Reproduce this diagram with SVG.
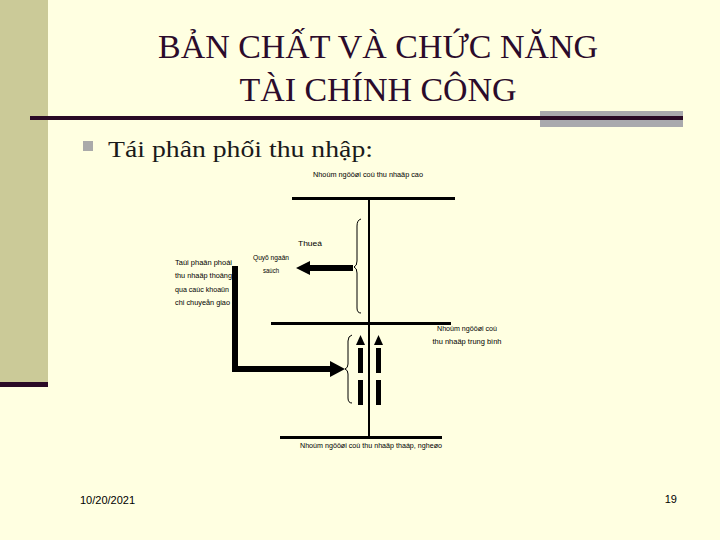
<svg xmlns="http://www.w3.org/2000/svg" width="720" height="540" viewBox="0 0 720 540">
<style>
.title{font-family:"Liberation Serif","Times New Roman",serif;font-size:34px;fill:#2b0b2b}
.bullet{font-family:"Liberation Serif","Times New Roman",serif;font-size:24px;fill:#1a1a1a}
.small{font-family:"Liberation Sans",Arial,sans-serif;font-size:7.5px;fill:#000}
.foot{font-family:"Liberation Sans",Arial,sans-serif;font-size:11px;fill:#000}
.ln{stroke:#000;fill:none}
.brace{stroke:#000;stroke-width:1;fill:none}
</style>
<defs>
<marker id="ahUp" viewBox="0 0 10 10" refX="5" refY="0" markerWidth="10" markerHeight="10" markerUnits="userSpaceOnUse" orient="auto"/>
</defs>
<rect x="0" y="0" width="720" height="540" fill="#FFFFE1"/>
<rect x="0" y="0" width="48" height="382" fill="#CBCA98"/>
<rect x="0" y="382" width="48" height="5" fill="#2a0a26"/>
<rect x="540" y="111" width="143" height="16" fill="#A9A9AD"/>
<rect x="30" y="116" width="653" height="4" fill="#2a0a26"/>

<g id="title">
<text class="title" x="378" y="58" text-anchor="middle" textLength="440" lengthAdjust="spacingAndGlyphs">BẢN CHẤT VÀ CHỨC NĂNG</text>
<text class="title" x="378" y="101" text-anchor="middle" textLength="277" lengthAdjust="spacingAndGlyphs">TÀI CHÍNH CÔNG</text>
</g>
<g id="bullet">
<rect x="83" y="141" width="10" height="10" fill="#AAAAAA"/>
<text class="bullet" x="108" y="157" textLength="265" lengthAdjust="spacingAndGlyphs">Tái phân phối thu nhập:</text>
</g>

<g id="connectors">
<line class="ln" x1="292" y1="198.5" x2="455" y2="198.5" stroke-width="3"/>
<line class="ln" x1="369" y1="198" x2="369" y2="437" stroke-width="2"/>
<line class="ln" x1="271" y1="323.5" x2="451" y2="323.5" stroke-width="3"/>
<line class="ln" x1="280" y1="437.5" x2="442" y2="437.5" stroke-width="3"/>
<!-- brace top -->
<path class="brace" d="M361,219 Q357,220 357,226 V261 Q357,266 354,267 Q357,268 357,273 V308 Q357,313 361,313"/>
<!-- left arrow -->
<line class="ln" x1="353" y1="268" x2="308" y2="268" stroke-width="6"/>
<polygon points="296,268 310,261 310,275" fill="#000"/>
<!-- L connector -->
<path class="ln" d="M235,266 V369 H332" stroke-width="6"/>
<polygon points="345,369 330,361 330,377" fill="#000"/>
<!-- brace bottom -->
<path class="brace" d="M352,335 Q348,336 348,341 V364 Q348,368 345,369 Q348,370 348,374 V398 Q348,403 352,403"/>
<!-- dashed up arrows -->
<line class="ln" x1="360.5" y1="348" x2="360.5" y2="405" stroke-width="5" stroke-dasharray="25,7"/>
<polygon points="360.5,335 356,345 365,345" fill="#000"/>
<line class="ln" x1="378.5" y1="348" x2="378.5" y2="405" stroke-width="5" stroke-dasharray="25,7"/>
<polygon points="378.5,335 374,345 383,345" fill="#000"/>
</g>

<g id="node-high">
<text class="small" x="368" y="177" text-anchor="middle" textLength="110" lengthAdjust="spacingAndGlyphs">Nhoùm ngöôøi coù thu nhaäp cao</text>
</g>
<g id="node-tax">
<text class="small" x="310" y="246" text-anchor="middle" textLength="24" lengthAdjust="spacingAndGlyphs">Thueá</text>
</g>
<g id="node-budget">
<text class="small" x="271" y="260" text-anchor="middle" textLength="36" lengthAdjust="spacingAndGlyphs">Quyõ ngaân</text>
<text class="small" x="271" y="273" text-anchor="middle" textLength="16" lengthAdjust="spacingAndGlyphs">saùch</text>
</g>
<g id="node-transfer">
<text class="small" x="175" y="265" textLength="57" lengthAdjust="spacingAndGlyphs">Taùi phaân phoái</text>
<text class="small" x="175" y="278" textLength="57" lengthAdjust="spacingAndGlyphs">thu nhaäp thoâng</text>
<text class="small" x="175" y="292" textLength="54" lengthAdjust="spacingAndGlyphs">qua caùc khoaûn</text>
<text class="small" x="175" y="305" textLength="55" lengthAdjust="spacingAndGlyphs">chi chuyeån giao</text>
</g>
<g id="node-middle">
<text class="small" x="467" y="331" text-anchor="middle" textLength="60" lengthAdjust="spacingAndGlyphs">Nhoùm ngöôøi coù</text>
<text class="small" x="467" y="344" text-anchor="middle" textLength="69" lengthAdjust="spacingAndGlyphs">thu nhaäp trung bình</text>
</g>
<g id="node-low">
<text class="small" x="371" y="448" text-anchor="middle" textLength="142" lengthAdjust="spacingAndGlyphs">Nhoùm ngöôøi coù thu nhaäp thaáp, ngheøo</text>
</g>
<g id="footer">
<text class="foot" x="80" y="504">10/20/2021</text>
<text class="foot" x="677" y="503" text-anchor="end">19</text>
</g>
</svg>
